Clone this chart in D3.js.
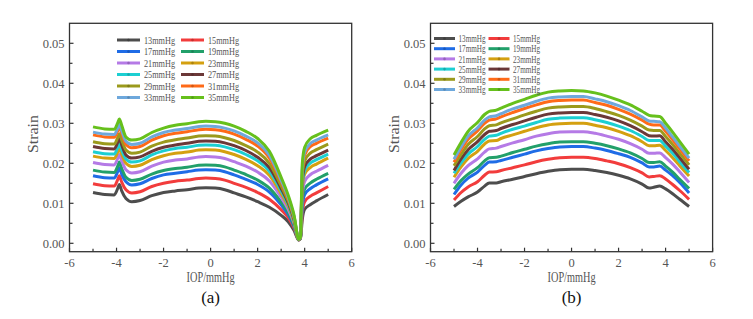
<!DOCTYPE html>
<html><head><meta charset="utf-8">
<script src="https://cdn.jsdelivr.net/npm/d3@7"></script>
<style>body{margin:0;background:#fff}svg{display:block}</style>
</head><body>
<svg id="c" width="753" height="319"></svg>
<script>
// ---------- data ----------
const labels = ["13mmHg","15mmHg","17mmHg","19mmHg","21mmHg","23mmHg","25mmHg","27mmHg","29mmHg","31mmHg","33mmHg","35mmHg"];
const colors = ["#4d4d4d","#f23c3c","#1f6ce6","#22a06a","#b57ae6","#d4a010","#1ccfd2","#6b3838","#9b9a1c","#ff6a18","#6ea8dc","#66c01c"];
const xTicks = [-6,-4,-2,0,2,4,6];
const yTicks = [0,0.01,0.02,0.03,0.04,0.05];

// panel (a)
const xA = [-5,-4.5,-4.1,-3.95,-3.88,-3.78,-3.6,-3.35,-3,-2.5,-2,-1.5,-1,-0.5,-0.2,0.2,0.6,1,1.5,2,2.5,3,3.3,3.55,3.75,3.82,3.9,4,4.25,4.5,5];
const a13 = [.0127,.0122,.0121,.0137,.0147,.0131,.0112,.0104,.0107,.0119,.0127,.0131,.0134,.0138,.0139,.0138,.0134,.0126,.0116,.0104,.0090,.0070,.0054,.0032,.0008,.0012,.0060,.0085,.0097,.0106,.0122];
const a15 = [.0149,.0144,.0143,.0159,.0169,.0153,.0134,.0126,.0129,.0142,.0150,.0155,.0158,.0162,.0163,.0162,.0158,.0150,.0140,.0127,.0110,.0084,.0064,.0038,.0008,.0012,.0077,.0104,.0118,.0126,.0142];
const a17 = [.0169,.0164,.0163,.0179,.0189,.0173,.0154,.0146,.0149,.0162,.0171,.0175,.0179,.0183,.0184,.0183,.0179,.0171,.0160,.0147,.0128,.0096,.0072,.0042,.0009,.0012,.0093,.0122,.0137,.0146,.0161];
const a19 = [.0183,.0178,.0177,.0193,.0203,.0187,.0165,.0157,.0160,.0173,.0182,.0187,.0190,.0195,.0196,.0195,.0191,.0183,.0172,.0158,.0138,.0103,.0077,.0045,.0009,.0013,.0106,.0136,.0151,.0160,.0175];
const a21 = [.0202,.0197,.0196,.0212,.0222,.0206,.0184,.0176,.0179,.0193,.0203,.0208,.0211,.0216,.0217,.0216,.0212,.0204,.0193,.0178,.0156,.0115,.0085,.0050,.0009,.0013,.0123,.0155,.0172,.0180,.0195];
const a23 = [.0218,.0213,.0212,.0228,.0238,.0222,.0200,.0192,.0195,.0209,.0219,.0225,.0228,.0233,.0234,.0233,.0229,.0222,.0210,.0194,.0170,.0124,.0092,.0054,.0009,.0013,.0139,.0173,.0190,.0198,.0213];
const a25 = [.0229,.0224,.0223,.0239,.0249,.0233,.0211,.0203,.0206,.0221,.0231,.0237,.0240,.0245,.0246,.0245,.0241,.0234,.0222,.0206,.0180,.0131,.0097,.0057,.0009,.0014,.0147,.0182,.0201,.0209,.0223];
const a27 = [.0242,.0237,.0236,.0252,.0262,.0246,.0221,.0213,.0216,.0230,.0240,.0246,.0250,.0255,.0256,.0255,.0251,.0244,.0232,.0215,.0189,.0137,.0101,.0059,.0009,.0014,.0156,.0192,.0211,.0219,.0233];
const a29 = [.0254,.0249,.0248,.0264,.0274,.0258,.0233,.0225,.0228,.0243,.0253,.0259,.0263,.0268,.0269,.0268,.0264,.0257,.0244,.0228,.0200,.0144,.0106,.0062,.0010,.0014,.0169,.0206,.0226,.0234,.0248];
const a31 = [.0271,.0266,.0265,.0281,.0291,.0275,.0247,.0239,.0242,.0258,.0269,.0275,.0279,.0284,.0285,.0284,.0280,.0273,.0260,.0243,.0213,.0154,.0112,.0065,.0010,.0015,.0182,.0221,.0242,.0250,.0263];
const a33 = [.0278,.0273,.0272,.0288,.0298,.0282,.0255,.0247,.0250,.0266,.0277,.0283,.0287,.0292,.0293,.0292,.0288,.0281,.0268,.0251,.0220,.0158,.0115,.0067,.0010,.0015,.0189,.0228,.0250,.0258,.0271];
const a35 = [.0291,.0286,.0285,.0301,.0311,.0295,.0266,.0258,.0261,.0277,.0288,.0295,.0299,.0304,.0305,.0304,.0300,.0293,.0280,.0262,.0230,.0165,.0120,.0070,.0010,.0015,.0200,.0240,.0262,.0270,.0283];

// panel (b)
const xB = [-5,-4.7,-4.4,-4,-3.7,-3.5,-3.2,-3,-2.5,-2,-1.5,-1,-0.5,0,0.5,1,1.5,2,2.5,3,3.3,3.5,3.75,4,4.3,4.6,5];
const b13 = [.0092,.0105,.0116,.0128,.0143,.0151,.0151,.0154,.0160,.0167,.0174,.0180,.0184,.0185,.0185,.0182,.0177,.0170,.0161,.0148,.0138,.0140,.0143,.0136,.0124,.0110,.0092];
const b15 = [.0108,.0127,.0141,.0154,.0170,.0178,.0179,.0182,.0189,.0196,.0204,.0210,.0214,.0215,.0215,.0212,.0206,.0199,.0189,.0176,.0166,.0167,.0169,.0161,.0147,.0132,.0110];
const b17 = [.0122,.0146,.0163,.0178,.0195,.0203,.0204,.0207,.0215,.0223,.0231,.0237,.0241,.0242,.0242,.0238,.0232,.0224,.0215,.0201,.0191,.0191,.0193,.0183,.0169,.0152,.0126];
const b19 = [.0135,.0157,.0173,.0189,.0206,.0214,.0215,.0218,.0227,.0235,.0243,.0249,.0253,.0254,.0254,.0250,.0244,.0236,.0226,.0212,.0202,.0202,.0204,.0193,.0178,.0160,.0137];
const b21 = [.0150,.0175,.0194,.0211,.0228,.0236,.0238,.0242,.0251,.0259,.0268,.0274,.0278,.0279,.0279,.0275,.0268,.0260,.0249,.0235,.0225,.0225,.0226,.0214,.0198,.0179,.0152];
const b23 = [.0165,.0191,.0212,.0230,.0248,.0256,.0257,.0262,.0271,.0280,.0289,.0296,.0299,.0300,.0300,.0295,.0289,.0280,.0269,.0254,.0244,.0244,.0245,.0232,.0214,.0194,.0168];
const b25 = [.0175,.0201,.0223,.0242,.0260,.0268,.0270,.0275,.0285,.0293,.0302,.0310,.0313,.0314,.0314,.0309,.0302,.0293,.0282,.0267,.0257,.0257,.0257,.0243,.0225,.0204,.0177];
const b27 = [.0182,.0211,.0234,.0254,.0272,.0280,.0282,.0287,.0297,.0306,.0315,.0323,.0326,.0327,.0327,.0322,.0315,.0306,.0294,.0279,.0269,.0268,.0269,.0254,.0235,.0214,.0185];
const b29 = [.0194,.0222,.0247,.0267,.0286,.0294,.0296,.0301,.0311,.0321,.0330,.0338,.0341,.0342,.0342,.0337,.0329,.0320,.0308,.0293,.0283,.0282,.0282,.0267,.0247,.0225,.0196];
const b31 = [.0203,.0234,.0260,.0281,.0300,.0308,.0311,.0316,.0327,.0337,.0346,.0354,.0357,.0358,.0358,.0352,.0345,.0335,.0323,.0308,.0298,.0296,.0296,.0280,.0259,.0236,.0206];
const b33 = [.0210,.0241,.0268,.0289,.0308,.0316,.0319,.0324,.0336,.0345,.0355,.0363,.0366,.0367,.0367,.0361,.0354,.0344,.0332,.0316,.0306,.0305,.0304,.0288,.0266,.0243,.0213];
const b35 = [.0221,.0252,.0280,.0302,.0322,.0330,.0333,.0338,.0350,.0360,.0370,.0378,.0381,.0382,.0381,.0376,.0368,.0358,.0346,.0330,.0320,.0318,.0317,.0300,.0278,.0254,.0223];

const seriesA = [a13,a15,a17,a19,a21,a23,a25,a27,a29,a31,a33,a35];
const seriesB = [b13,b15,b17,b19,b21,b23,b25,b27,b29,b31,b33,b35];

// ---------- drawing ----------
const svg = d3.select("#c");
const FONT = "'Liberation Serif','Times New Roman',serif";
const TXT = "#555";
const plotTop = 23.3, plotBot = 251.7;
const y = d3.scaleLinear().domain([-0.0021, 0.055]).range([plotBot, plotTop]);

function panel(cfg){
  const x = d3.scaleLinear().domain([-6,6]).range([cfg.x0, cfg.x1]);
  const g = svg.append("g");
  const line = d3.line().x(d=>x(d[0])).y(d=>y(d[1])).curve(d3.curveMonotoneX);
  cfg.series.forEach((s,i)=>{
    g.append("path").datum(cfg.xs.map((xv,k)=>[xv,s[k]]))
      .attr("d", line).attr("fill","none").attr("stroke", colors[i])
      .attr("stroke-width", 3).attr("stroke-linejoin","round");
  });
  g.append("rect").attr("x", cfg.x0).attr("y", plotTop).attr("width", cfg.x1-cfg.x0).attr("height", plotBot-plotTop)
    .attr("fill","none").attr("stroke","#333").attr("stroke-width",1.3);
  const xMinor = [-5,-3,-1,1,3,5];
  xTicks.forEach(t=>{
    g.append("line").attr("x1",x(t)).attr("x2",x(t)).attr("y1",plotBot).attr("y2",plotBot-4).attr("stroke","#333").attr("stroke-width",1.2);
    g.append("text").attr("x",x(t)).attr("y",plotBot+15).attr("text-anchor","middle")
      .attr("font-family",FONT).attr("font-size",12.5).attr("fill",TXT).text(String(t));
  });
  xMinor.forEach(t=>{
    g.append("line").attr("x1",x(t)).attr("x2",x(t)).attr("y1",plotBot).attr("y2",plotBot-3).attr("stroke","#333").attr("stroke-width",1.2);
  });
  yTicks.forEach(t=>{
    g.append("line").attr("x1",cfg.x0).attr("x2",cfg.x0+4).attr("y1",y(t)).attr("y2",y(t)).attr("stroke","#333").attr("stroke-width",1.2);
    g.append("text").attr("x",cfg.x0-5).attr("y",y(t)+4.3).attr("text-anchor","end")
      .attr("font-family",FONT).attr("font-size",12.5).attr("fill",TXT).text(d3.format(".2f")(t));
  });
  [0.005,0.015,0.025,0.035,0.045].forEach(t=>{
    g.append("line").attr("x1",cfg.x0).attr("x2",cfg.x0+3).attr("y1",y(t)).attr("y2",y(t)).attr("stroke","#333").attr("stroke-width",1.2);
  });
  g.append("text").attr("transform",`translate(${cfg.yTitleX},134) rotate(-90)`).attr("text-anchor","middle")
    .attr("dominant-baseline","central").attr("font-family",FONT).attr("font-size",15).attr("fill",TXT)
    .attr("textLength",38).attr("lengthAdjust","spacingAndGlyphs").text("Strain");
  g.append("text").attr("x",x(0)).attr("y",281.5).attr("text-anchor","middle")
    .attr("font-family",FONT).attr("font-size",14).attr("fill",TXT)
    .attr("textLength",48).attr("lengthAdjust","spacingAndGlyphs").text("IOP/mmHg");
  g.append("text").attr("x",x(0)).attr("y",303).attr("text-anchor","middle")
    .attr("font-family",FONT).attr("font-size",17).attr("fill","#111").text(cfg.tag);
  const L = cfg.legend;
  labels.forEach((lab,i)=>{
    const col = i%2, row = Math.floor(i/2);
    const lx = L.x[col], ly = L.y0 + row*L.dy;
    g.append("line").attr("x1",lx).attr("x2",lx+L.len).attr("y1",ly).attr("y2",ly)
      .attr("stroke",colors[i]).attr("stroke-width",3);
    g.append("circle").attr("cx",lx+L.len/2).attr("cy",ly).attr("r",1.3).attr("fill",d3.color(colors[i]).darker(0.6));
    g.append("text").attr("x",lx+L.len+L.gap).attr("y",ly+L.fs*0.36)
      .attr("font-family",FONT).attr("font-size",L.fs).attr("fill",TXT)
      .attr("textLength",L.tw).attr("lengthAdjust","spacingAndGlyphs").text(lab);
  });
}

panel({x0:69.5, x1:351.7, xs:xA, series:seriesA, tag:"(a)", yTitleX:32.5,
  legend:{x:[117,181], y0:40, dy:11.5, len:23, gap:4, fs:11, tw:31}});
panel({x0:430.5, x1:712.6, xs:xB, series:seriesB, tag:"(b)", yTitleX:393.5,
  legend:{x:[434,488.5], y0:38.5, dy:10.2, len:21, gap:3.5, fs:10, tw:27}});
</script>
</body></html>
